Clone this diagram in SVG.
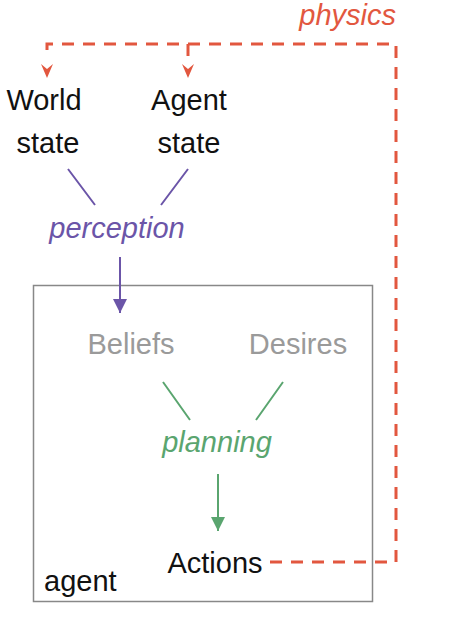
<svg xmlns="http://www.w3.org/2000/svg" width="449" height="631" viewBox="0 0 449 631">
<style>
text{font-family:"Liberation Sans",Arial,sans-serif;font-size:29px;text-anchor:middle}
.blk{fill:#111}
.gry{fill:#9a9a9a}
.it{font-style:italic}
.red{fill:#e2573f}
.pur{fill:#6b55a8}
.grn{fill:#5aa56f}
.dash{fill:none;stroke:#e2573f;stroke-width:3;stroke-dasharray:12 9}
</style>
<defs>
<marker id="ap" viewBox="0 0 10 10" refX="10" refY="5" markerWidth="7" markerHeight="7" orient="auto"><path d="M0,0L10,5L0,10z" fill="#6b55a8"/></marker>
<marker id="ag" viewBox="0 0 10 10" refX="10" refY="5" markerWidth="7" markerHeight="7" orient="auto"><path d="M0,0L10,5L0,10z" fill="#5aa56f"/></marker>
</defs>
<g id="agentbox"><rect x="33.5" y="285.5" width="339" height="316" fill="none" stroke="#888" stroke-width="1.5"/><text class="blk" x="44" y="591" style="text-anchor:start">agent</text></g>
<g id="connectors">
<path class="dash" d="M270,562H396V44H47V54"/>
<path d="M41,64L47,69L53,64L47,78z" fill="#e2573f"/>
<path class="dash" d="M188,44V58"/>
<path d="M182,64L188,69L194,64L188,78z" fill="#e2573f"/>
<path d="M68,169L95,205M188,169L161,205" stroke="#6b55a8" stroke-width="2"/>
<path d="M120,257V313" stroke="#6b55a8" stroke-width="2" marker-end="url(#ap)"/>
<path d="M163,382L190,420M283,382L256,420" stroke="#5aa56f" stroke-width="2"/>
<path d="M218,474V531" stroke="#5aa56f" stroke-width="2" marker-end="url(#ag)"/>
</g>
<g id="physics"><text class="red it" x="396" y="25" style="text-anchor:end">physics</text></g>
<g id="world"><text class="blk" x="44" y="110">World</text><text class="blk" x="48" y="153">state</text></g>
<g id="agentstate"><text class="blk" x="189" y="110">Agent</text><text class="blk" x="189" y="153">state</text></g>
<g id="perception"><text class="pur it" x="117" y="238">perception</text></g>
<g id="beliefs"><text class="gry" x="131" y="354">Beliefs</text></g>
<g id="desires"><text class="gry" x="298" y="354">Desires</text></g>
<g id="planning"><text class="grn it" x="217" y="452">planning</text></g>
<g id="actions"><text class="blk" x="215" y="573">Actions</text></g>
</svg>
